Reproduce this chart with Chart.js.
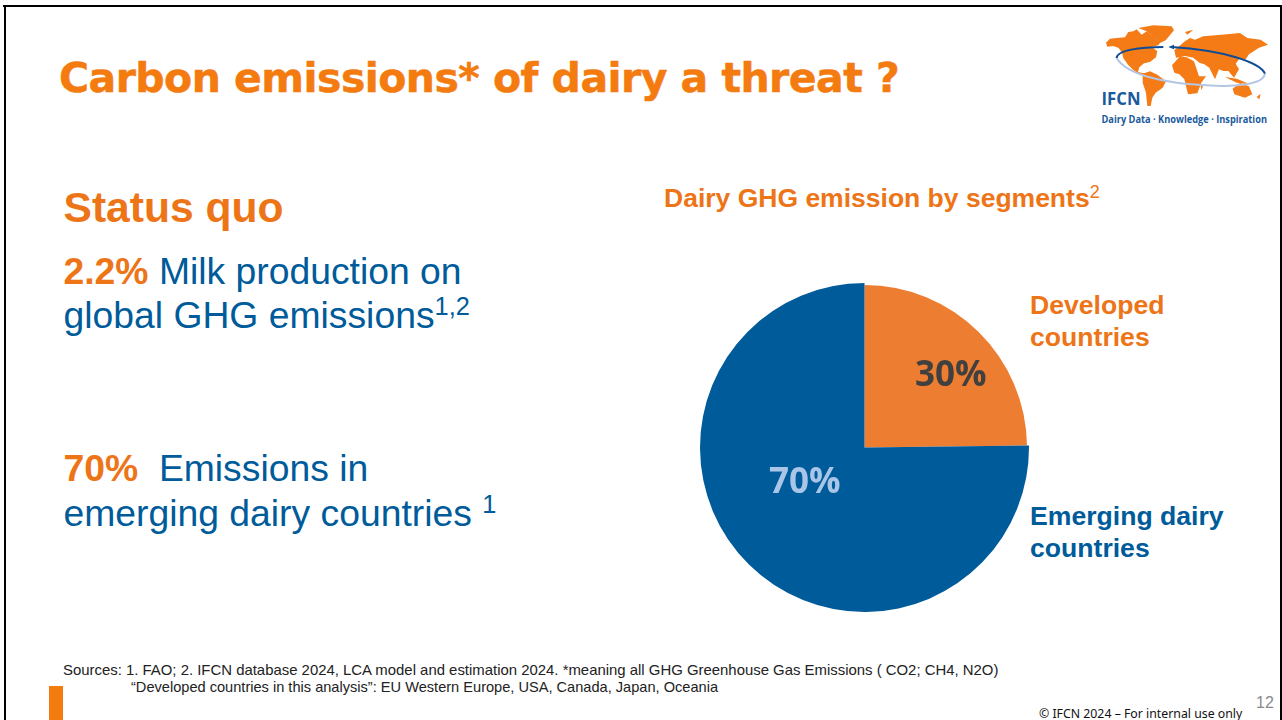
<!DOCTYPE html>
<html>
<head>
<meta charset="utf-8">
<title>Carbon emissions of dairy</title>
<script src="https://cdn.jsdelivr.net/npm/chart.js@4/dist/chart.umd.min.js"></script>
<style>
  html, body { margin: 0; padding: 0; background: #fff; }
  body { width: 1282px; height: 720px; position: relative; overflow: hidden; font-family: "Liberation Sans", Arial, sans-serif; }
  .t { position: absolute; white-space: nowrap; line-height: 1; }
  .o { color: #ED7518; font-weight: bold; }
  .b { color: #005B9A; }
  sup { font-size: 68%; font-weight: normal; line-height: 0; vertical-align: baseline; position: relative; top: -0.5em; }
  #frameT { position: absolute; left: 3px; top: 5px; width: 1279px; height: 2px; background: #000; }
  #frameL { position: absolute; left: 4px; top: 5px; width: 2px; height: 715px; background: #000; }
  #frameR { position: absolute; left: 1280px; top: 5px; width: 2px; height: 715px; background: #000; }
  #bar { position: absolute; left: 49px; top: 686px; width: 14px; height: 34px; background: #F47B0F; }
  #pie { position: absolute; left: 700px; top: 283px; width: 329px; height: 329px; }
  #logo { position: absolute; left: 1090px; top: 15px; width: 192px; height: 120px; }
</style>
</head>
<body>
<div id="frameT"></div><div id="frameL"></div><div id="frameR"></div>
<div id="bar"></div>

<div class="t" style="left:59px;top:54px;font:bold 41px 'DejaVu Sans';letter-spacing:-0.55px;-webkit-text-stroke:0.5px #F47B0F;color:#F47B0F">Carbon emissions* of dairy a threat ?</div>

<svg id="logo" viewBox="1090 15 192 120">
  <g transform="translate(1100 22) scale(0.3333)">
    <g fill="#F47B16">
      <path d="M18 62L30 50 50 48 75 46 85 30 100 28 110 22 125 38 140 28 155 40 165 48 182 60 175 70 155 74 172 88 168 106 150 120 132 124 118 136 114 150 137 155 122 160 100 144 84 128 70 108 66 92 56 78 40 72 22 74Z"/>
      <path d="M115 18L160 10 215 13 222 25 197 55 182 62 160 45 140 28Z"/>
      <path d="M128 155L150 148 172 158 198 178 188 197 167 212 157 227 152 252 142 252 138 212 128 182Z"/>
      <path d="M216 130L240 103 260 106 282 118 297 163 318 163 304 182 292 214 264 217 253 172 238 157 223 152Z"/>
      <path d="M223 85L255 58 270 48 285 53 310 43 365 38 420 33 442 48 482 53 504 68 477 77 462 87 447 97 437 112 417 112 407 125 417 142 402 167 385 147 370 147 357 142 345 172 328 137 313 127 298 122 280 107 255 102 228 107Z"/>
      <path d="M255 30L280 23 262 38Z"/>
      <path d="M375 165L410 170 450 187 410 182Z"/>
      <path d="M398 200L420 183 447 193 457 217 435 227 403 217Z"/>
      <path d="M470 225L482 215 478 232Z"/>
      <path d="M302 190L310 190 304 205Z"/>
    </g>
    <path d="M50 108C80 160 200 185 320 190 400 195 490 190 495 155" fill="none" stroke="#B4C6E4" stroke-width="6"/>
    <path d="M190 75C120 75 50 85 50 108" fill="none" stroke="#0F4C96" stroke-width="6"/>
    <path d="M495 155C480 120 370 85 215 75" fill="none" stroke="#0F4C96" stroke-width="6"/>
    <path d="M205 75L222 68 222 82Z" fill="#0F4C96"/>
  </g>
  <text x="1101.5" y="105" font-family="'Open Sans'" font-weight="bold" font-size="18" fill="#1B5A9C" textLength="39" lengthAdjust="spacingAndGlyphs">IFCN</text>
  <text x="1101.5" y="123" font-family="'Open Sans'" font-weight="bold" font-size="9.7" fill="#1B5A9C" textLength="165.5" lengthAdjust="spacingAndGlyphs">Dairy Data · Knowledge · Inspiration</text>
</svg>

<div class="t o" style="left:63.5px;top:186px;font-size:42.6px">Status quo</div>
<div class="t b" style="left:63.5px;top:253px;font-size:37.3px"><span class="o">2.2%</span> Milk production on</div>
<div class="t b" style="left:63.5px;top:297px;font-size:37.3px">global GHG emissions<sup>1,2</sup></div>
<div class="t b" style="left:63.5px;top:450px;font-size:37.3px"><span class="o">70%</span>&nbsp; Emissions in</div>
<div class="t b" style="left:63.5px;top:495px;font-size:37.3px">emerging dairy countries <sup>1</sup></div>

<div class="t o" style="left:664px;top:185px;font-size:26.5px">Dairy GHG emission by segments<sup>2</sup></div>

<div id="pie"><canvas id="graficoPizza"></canvas></div>

<div class="t o" id="lab0a" style="left:1030px;top:292px;font-size:26.6px"></div>
<div class="t o" id="lab0b" style="left:1030px;top:324px;font-size:26.6px"></div>
<div class="t b" id="lab1a" style="left:1030px;top:503px;font-size:26.6px;font-weight:bold"></div>
<div class="t b" id="lab1b" style="left:1030px;top:535px;font-size:26.6px;font-weight:bold"></div>
<div class="t" id="pct0" style="left:915px;top:354px;font:bold 35px 'Open Sans';line-height:38px;color:#404040"></div>
<div class="t" id="pct1" style="left:769px;top:461px;font:bold 35px 'Open Sans';line-height:38px;color:#A9C6E8"></div>

<div class="t" style="left:63px;top:663px;font-size:14.92px;color:#222">Sources: 1. FAO; 2. IFCN database 2024, LCA model and estimation 2024. *meaning all GHG Greenhouse Gas Emissions ( CO2; CH4, N2O)</div>
<div class="t" style="left:131px;top:680px;font-size:14.6px;color:#222">“Developed countries in this analysis”: EU Western Europe, USA, Canada, Japan, Oceania</div>
<div class="t" style="left:1039px;top:705px;font:12.3px 'Noto Sans';color:#111">© IFCN 2024 – For internal use only</div>
<div class="t" style="left:1256px;top:695px;font-size:16px;color:#8a8a8a">12</div>

<script>
// segmentos
const segmentos = ["Developed countries", "Emerging dairy countries"];
// printed labels
const rotulos = ["30%", "70%"];
// share of the circle as it is actually drawn in the picture (not the printed 30/70)
const fatias = [24.8, 75.2];
const cores = ["#ED7D31", "#005B9A"];

document.getElementById("lab0a").textContent = "Developed";
document.getElementById("lab0b").textContent = "countries";
document.getElementById("lab1a").textContent = "Emerging dairy";
document.getElementById("lab1b").textContent = "countries";
document.getElementById("pct0").textContent = rotulos[0];
document.getElementById("pct1").textContent = rotulos[1];

// the orange slice sits about 2px inside the blue one
const fatiaMenor = {
    id: "fatiaMenor",
    beforeDatasetsDraw(chart) {
        const arc = chart.getDatasetMeta(0).data[0];
        arc.outerRadius = chart.getDatasetMeta(0).data[1].outerRadius - 2;
    }
};

new Chart(document.getElementById("graficoPizza"), {
    type: "pie",
    data: {
        labels: segmentos,
        datasets: [{ data: fatias, backgroundColor: cores, borderWidth: 0 }]
    },
    options: {
        responsive: true,
        maintainAspectRatio: false,
        animation: false,
        plugins: { legend: { display: false }, tooltip: { enabled: false } }
    },
    plugins: [fatiaMenor]
});
</script>
</body>
</html>
